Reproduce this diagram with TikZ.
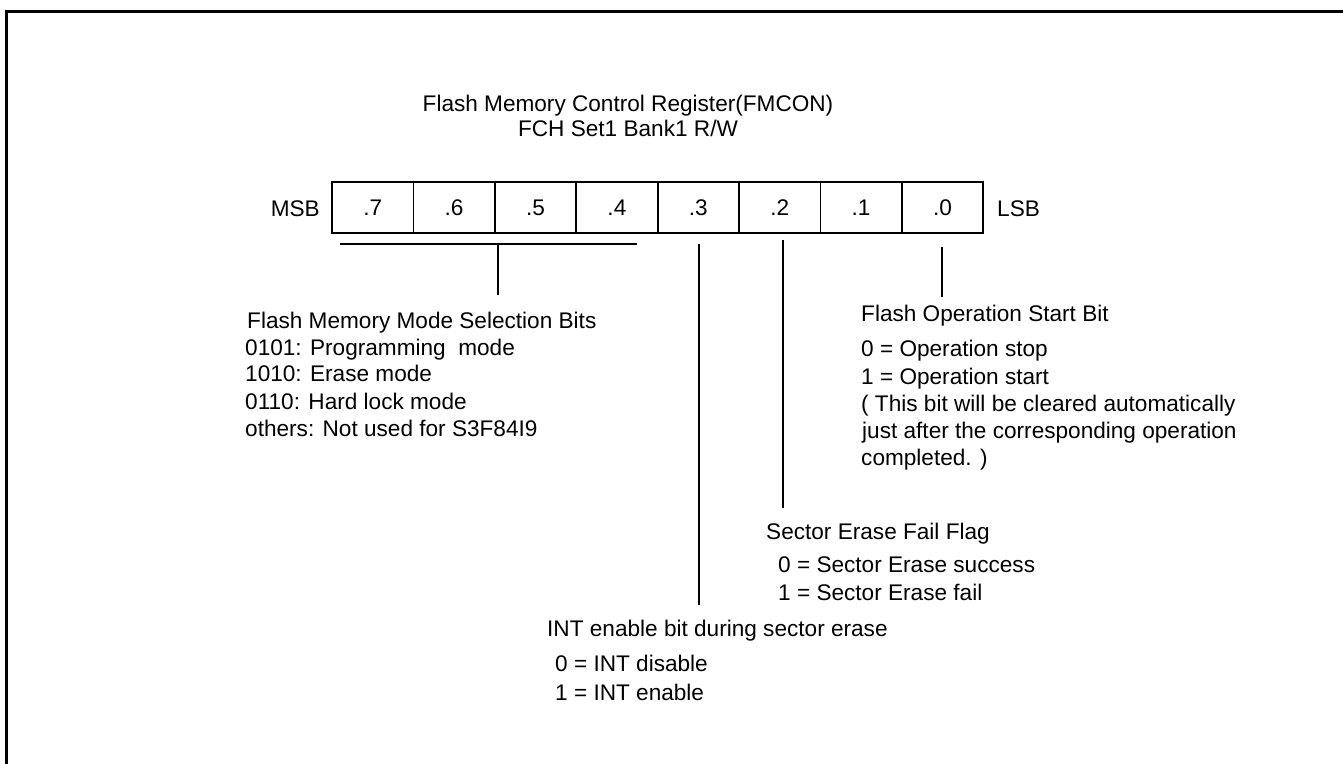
\documentclass[tikz,border=0pt]{standalone}
\usepackage{fontspec}
\setmainfont{Liberation Sans}
\begin{document}
\begin{tikzpicture}[x=1pt,y=-1pt,
  txt/.style={font=\fontsize{22.6}{27}\selectfont, inner sep=0pt, anchor=base west},
  ctxt/.style={font=\fontsize{22.6}{27}\selectfont, inner sep=0pt, anchor=base},
  cell/.style={draw, line width=1.8pt, minimum width=81.4pt, minimum height=51pt,
    text height=16pt, text depth=0pt, inner sep=0pt, font=\fontsize{22.6}{27}\selectfont},
  conn/.style={line width=1.8pt},
  frame/.style={line width=3pt}]
\useasboundingbox (0,0) rectangle (1343,763);
% frame
\coordinate (fbl) at (6,770);
\coordinate (ftl) at (6,11);
\coordinate (ftr) at (1350,11);
\draw[frame] (fbl) -- (ftl) -- (ftr);
% title
\node[ctxt] (t1) at (628,111) {Flash Memory Control Register(FMCON)};
\node[ctxt] (t2) at (628,136) {FCH Set1 Bank1 R/W};
% register
\node[cell] (b7) at (372.7,207.5) {.7};
\node[cell] (b6) at (454.1,207.5) {.6};
\node[cell] (b5) at (535.5,207.5) {.5};
\node[cell] (b4) at (616.9,207.5) {.4};
\node[cell] (b3) at (698.3,207.5) {.3};
\node[cell] (b2) at (779.7,207.5) {.2};
\node[cell] (b1) at (861.1,207.5) {.1};
\node[cell] (b0) at (942.5,207.5) {.0};
\node[txt, anchor=base east] (msb) at (320,216) {MSB};
\node[txt] (lsb) at (997,216) {LSB};
% bracket for .7-.4
\coordinate (brl) at (340,244);
\coordinate (brr) at (637,244);
\coordinate (brm) at (498,244);
\coordinate (brb) at (498,295);
\draw[conn] (brl) -- (brr);
\draw[conn] (brm) -- (brb);
% lines
\coordinate (l3a) at (699,244);
\coordinate (l3b) at (699,605);
\coordinate (l2a) at (783,240);
\coordinate (l2b) at (783,508);
\coordinate (l0a) at (942,247);
\coordinate (l0b) at (942,297);
\draw[conn] (l3a) -- (l3b);
\draw[conn] (l2a) -- (l2b);
\draw[conn] (l0a) -- (l0b);
% mode selection
\node[txt] (m0) at (247,328) {Flash Memory Mode Selection Bits};
\node[txt] (m1) at (245,355) {0101: Programming\ \ mode};
\node[txt] (m2) at (245,381) {1010: Erase mode};
\node[txt] (m3) at (245,409) {0110: Hard lock mode};
\node[txt] (m4) at (245,436) {others: Not used for S3F84I9};
% op start
\node[txt] (o0) at (861,321) {Flash Operation Start Bit};
\node[txt] (o1) at (861,356) {0 = Operation stop};
\node[txt] (o2) at (861,384) {1 = Operation start};
\node[txt] (o3) at (861,411) {( This bit will be cleared automatically};
\node[txt] (o4) at (862,438) {just after the corresponding operation};
\node[txt] (o5) at (861,465) {completed. )};
% sector erase fail
\node[txt] (s0) at (766,539) {Sector Erase Fail Flag};
\node[txt] (s1) at (778,572) {0 = Sector Erase success};
\node[txt] (s2) at (778,600) {1 = Sector Erase fail};
% INT enable
\node[txt] (i0) at (547,636) {INT enable bit during sector erase};
\node[txt] (i1) at (555,671) {0 = INT disable};
\node[txt] (i2) at (555,700) {1 = INT enable};
\end{tikzpicture}
\end{document}
